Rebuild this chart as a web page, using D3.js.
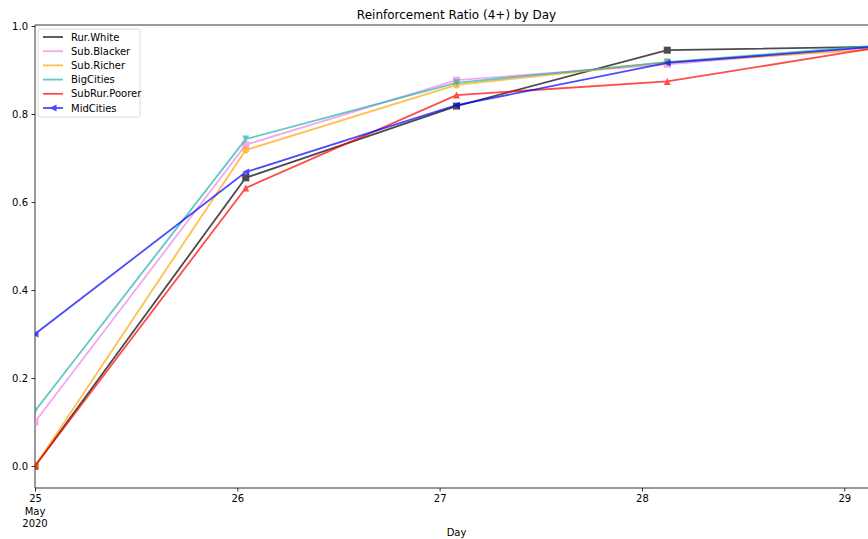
<!DOCTYPE html>
<html>
<head>
<meta charset="utf-8">
<script src="https://cdn.jsdelivr.net/npm/d3@7"></script>
<style>
  body { margin: 0; background: #fff; }
  svg { display: block; font-family: "DejaVu Sans", sans-serif; }
</style>
</head>
<body>
<svg id="chart" width="868" height="539"></svg>
<script>
// Observation timestamps (one per day, drifting by an hour each day)
const times = ["2020-05-25T00:00", "2020-05-26T01:00", "2020-05-27T02:00", "2020-05-28T03:00", "2020-05-29T04:00"];

const seriesNames = ["Rur.White", "Sub.Blacker", "Sub.Richer", "BigCities", "SubRur.Poorer", "MidCities"];
const rurWhite     = [0.000, 0.655, 0.818, 0.945, 0.953];
const subBlacker   = [0.100, 0.730, 0.877, 0.913, 0.952];
const subRicher    = [0.000, 0.718, 0.866, 0.918, 0.947];
const bigCities    = [0.125, 0.743, 0.871, 0.918, 0.956];
const subRurPoorer = [0.000, 0.632, 0.843, 0.874, 0.951];
const midCities    = [0.300, 0.668, 0.820, 0.916, 0.953];

const yTicks = [0.0, 0.2, 0.4, 0.6, 0.8, 1.0];
const xTickDays = ["2020-05-25", "2020-05-26", "2020-05-27", "2020-05-28", "2020-05-29"];

const seriesValues = [rurWhite, subBlacker, subRicher, bigCities, subRurPoorer, midCities];
const colors  = ["#000000", "#ee82ee", "#ffa500", "#20b2aa", "#ff0000", "#0000ff"];
const markers = ["square", "square", "circle", "triDown", "triUp", "triLeft"];

const parse = d3.timeParse("%Y-%m-%dT%H:%M");
const parseDay = d3.timeParse("%Y-%m-%d");
const dates = times.map(parse);

const svg = d3.select("#chart");
const mLeft = 35, mTop = 25, mBottom = 488, mRight = 878;

const x = d3.scaleTime().domain(d3.extent(dates)).range([mLeft, mRight]);
const y = d3.scaleLinear().domain([-0.05, 1.0023]).range([mBottom, mTop]);

svg.append("defs").append("clipPath").attr("id", "plotClip")
  .append("rect").attr("x", mLeft).attr("y", mTop)
  .attr("width", mRight - mLeft).attr("height", mBottom - mTop);

// Title
svg.append("text").attr("x", (mLeft + mRight) / 2).attr("y", 19)
  .attr("text-anchor", "middle").attr("font-size", 12).attr("fill", "#000")
  .text("Reinforcement Ratio (4+) by Day");

// Y axis
const yAxis = d3.axisLeft(y).tickValues(yTicks).tickFormat(d3.format(".1f")).tickSize(3.5).tickPadding(3.5);
const gy = svg.append("g").attr("transform", `translate(${mLeft},0)`).call(yAxis);
gy.select(".domain").remove();
gy.selectAll("text").attr("font-size", 10).attr("fill", "#000").attr("font-family", "DejaVu Sans, sans-serif");
gy.selectAll("line").attr("stroke", "#000").attr("stroke-width", 0.8);

// X axis
const xTicks = xTickDays.map(parseDay);
const xAxis = d3.axisBottom(x).tickValues(xTicks).tickFormat(d3.timeFormat("%d")).tickSize(3.5).tickPadding(3.5);
const gx = svg.append("g").attr("transform", `translate(0,${mBottom})`).call(xAxis);
gx.select(".domain").remove();
gx.selectAll("text").attr("font-size", 10).attr("fill", "#000").attr("font-family", "DejaVu Sans, sans-serif");
gx.selectAll("line").attr("stroke", "#000").attr("stroke-width", 0.8);
const firstTick = x(xTicks[0]);
["May", "2020"].forEach((t, i) => {
  svg.append("text").attr("x", firstTick).attr("y", mBottom + 27 + i * 11.5)
    .attr("text-anchor", "middle").attr("font-size", 10).attr("fill", "#000").text(t);
});

svg.append("text").attr("x", (mLeft + mRight) / 2).attr("y", 536)
  .attr("text-anchor", "middle").attr("font-size", 10).attr("fill", "#000").text("Day");

// Spines
svg.append("line").attr("x1", mLeft).attr("x2", mLeft).attr("y1", mTop).attr("y2", mBottom)
  .attr("stroke", "#000").attr("stroke-width", 0.8);
svg.append("line").attr("x1", mLeft).attr("x2", mRight).attr("y1", mBottom).attr("y2", mBottom)
  .attr("stroke", "#000").attr("stroke-width", 0.8);
svg.append("line").attr("x1", mLeft).attr("x2", mRight).attr("y1", mTop).attr("y2", mTop)
  .attr("stroke", "#000").attr("stroke-width", 0.8);

function markerPath(kind, s) {
  const h = s / 2;
  switch (kind) {
    case "square": return `M${-h},${-h}H${h}V${h}H${-h}Z`;
    case "circle": return d3.symbol(d3.symbolCircle, Math.PI * h * h)();
    case "triUp": return `M0,${-h}L${h},${h}L${-h},${h}Z`;
    case "triDown": return `M0,${h}L${h},${-h}L${-h},${-h}Z`;
    case "triLeft": return `M${-h},0L${h},${-h}L${h},${h}Z`;
  }
}

const plot = svg.append("g").attr("clip-path", "url(#plotClip)");
const line = d3.line().x((d, i) => x(dates[i])).y(d => y(d));

seriesValues.forEach((vals, k) => {
  const g = plot.append("g").attr("opacity", 0.7);
  g.append("path").datum(vals).attr("d", line)
    .attr("fill", "none").attr("stroke", colors[k]).attr("stroke-width", 1.8);
  g.selectAll("path.m").data(vals).join("path").attr("class", "m")
    .attr("transform", (d, i) => `translate(${x(dates[i])},${y(d)})`)
    .attr("d", markerPath(markers[k], 7)).attr("fill", colors[k]);
});

// Legend
const lg = svg.append("g").attr("transform", "translate(38,29)");
lg.append("rect").attr("x", 0).attr("y", 0).attr("width", 102).attr("height", 88)
  .attr("rx", 2).attr("fill", "#fff").attr("fill-opacity", 0.8).attr("stroke", "#d0d0d0").attr("stroke-width", 0.8);
seriesNames.forEach((name, k) => {
  const yy = 8 + k * 14.2;
  const e = lg.append("g").attr("opacity", 0.7);
  e.append("line").attr("x1", 5).attr("x2", 25).attr("y1", yy).attr("y2", yy)
    .attr("stroke", colors[k]).attr("stroke-width", 1.8);
  if (markers[k] === "triLeft") {
    e.append("path").attr("transform", `translate(15,${yy})`).attr("d", markerPath("triLeft", 7)).attr("fill", colors[k]);
  }
  lg.append("text").attr("x", 33).attr("y", yy + 3.5).attr("font-size", 10).attr("fill", "#000").text(name);
});
</script>
</body>
</html>
